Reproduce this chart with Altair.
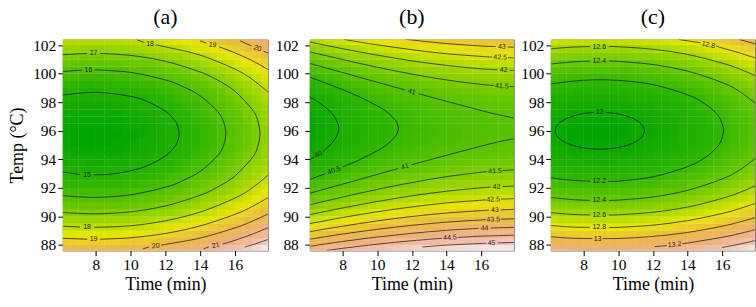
import altair as alt
import pandas as pd

# ---------------- data ----------------
time_grid = [6.25, 6.75, 7.25, 7.75, 8.25, 8.75, 9.25, 9.75, 10.25, 10.75, 11.25, 11.75,
             12.25, 12.75, 13.25, 13.75, 14.25, 14.75, 15.25, 15.75, 16.25, 16.75, 17.25, 17.75]
temp_grid = [87.75, 88.25, 88.75, 89.25, 89.75, 90.25, 90.75, 91.25, 91.75, 92.25, 92.75, 93.25,
             93.75, 94.25, 94.75, 95.25, 95.75, 96.25, 96.75, 97.25, 97.75, 98.25, 98.75, 99.25,
             99.75, 100.25, 100.75, 101.25, 101.75, 102.25]

time_ticks = [8, 10, 12, 14, 16]
temp_ticks = [88, 90, 92, 94, 96, 98, 100, 102]
time_domain = [6.1, 17.9]
temp_domain = [87.6, 102.4]

panel_titles = ["(a)", "(b)", "(c)"]

# surface values, rows = temp_grid (low -> high), columns = time_grid
z_a = [
    [19.9, 19.9, 19.9, 19.9, 19.9, 19.9, 19.9, 20.0, 20.0, 20.1, 20.2, 20.3, 20.4, 20.6, 20.7, 20.9, 21.1, 21.3, 21.5, 21.7, 21.9, 22.2, 22.5, 22.8],
    [19.3, 19.2, 19.2, 19.2, 19.2, 19.2, 19.2, 19.3, 19.4, 19.4, 19.5, 19.6, 19.8, 19.9, 20.0, 20.2, 20.4, 20.6, 20.8, 21.0, 21.3, 21.5, 21.8, 22.1],
    [18.6, 18.6, 18.6, 18.6, 18.6, 18.6, 18.6, 18.7, 18.7, 18.8, 18.9, 19.0, 19.1, 19.3, 19.4, 19.6, 19.8, 20.0, 20.2, 20.4, 20.6, 20.9, 21.2, 21.5],
    [18.0, 18.0, 18.0, 18.0, 18.0, 18.0, 18.0, 18.1, 18.1, 18.2, 18.3, 18.4, 18.5, 18.7, 18.8, 19.0, 19.2, 19.4, 19.6, 19.8, 20.1, 20.3, 20.6, 20.9],
    [17.5, 17.5, 17.4, 17.4, 17.4, 17.5, 17.5, 17.5, 17.6, 17.7, 17.8, 17.9, 18.0, 18.1, 18.3, 18.5, 18.6, 18.8, 19.0, 19.3, 19.5, 19.8, 20.0, 20.3],
    [17.0, 17.0, 16.9, 16.9, 16.9, 17.0, 17.0, 17.0, 17.1, 17.2, 17.3, 17.4, 17.5, 17.6, 17.8, 18.0, 18.1, 18.3, 18.5, 18.8, 19.0, 19.3, 19.5, 19.8],
    [16.6, 16.5, 16.5, 16.5, 16.5, 16.5, 16.5, 16.6, 16.6, 16.7, 16.8, 16.9, 17.0, 17.2, 17.3, 17.5, 17.7, 17.9, 18.1, 18.3, 18.6, 18.8, 19.1, 19.4],
    [16.1, 16.1, 16.1, 16.1, 16.1, 16.1, 16.1, 16.2, 16.2, 16.3, 16.4, 16.5, 16.6, 16.8, 16.9, 17.1, 17.3, 17.5, 17.7, 17.9, 18.1, 18.4, 18.7, 19.0],
    [15.8, 15.7, 15.7, 15.7, 15.7, 15.7, 15.7, 15.8, 15.9, 15.9, 16.0, 16.1, 16.3, 16.4, 16.6, 16.7, 16.9, 17.1, 17.3, 17.5, 17.8, 18.0, 18.3, 18.6],
    [15.4, 15.4, 15.4, 15.4, 15.4, 15.4, 15.4, 15.5, 15.5, 15.6, 15.7, 15.8, 15.9, 16.1, 16.2, 16.4, 16.6, 16.8, 17.0, 17.2, 17.5, 17.7, 18.0, 18.3],
    [15.2, 15.1, 15.1, 15.1, 15.1, 15.1, 15.1, 15.2, 15.2, 15.3, 15.4, 15.5, 15.7, 15.8, 15.9, 16.1, 16.3, 16.5, 16.7, 16.9, 17.2, 17.4, 17.7, 18.0],
    [14.9, 14.9, 14.9, 14.8, 14.8, 14.9, 14.9, 14.9, 15.0, 15.1, 15.2, 15.3, 15.4, 15.5, 15.7, 15.9, 16.0, 16.2, 16.5, 16.7, 16.9, 17.2, 17.5, 17.7],
    [14.7, 14.7, 14.7, 14.6, 14.6, 14.7, 14.7, 14.7, 14.8, 14.9, 15.0, 15.1, 15.2, 15.3, 15.5, 15.7, 15.9, 16.0, 16.3, 16.5, 16.7, 17.0, 17.3, 17.5],
    [14.6, 14.5, 14.5, 14.5, 14.5, 14.5, 14.5, 14.6, 14.7, 14.7, 14.8, 14.9, 15.1, 15.2, 15.3, 15.5, 15.7, 15.9, 16.1, 16.3, 16.6, 16.8, 17.1, 17.4],
    [14.5, 14.4, 14.4, 14.4, 14.4, 14.4, 14.4, 14.5, 14.5, 14.6, 14.7, 14.8, 14.9, 15.1, 15.2, 15.4, 15.6, 15.8, 16.0, 16.2, 16.5, 16.7, 17.0, 17.3],
    [14.4, 14.3, 14.3, 14.3, 14.3, 14.3, 14.4, 14.4, 14.5, 14.6, 14.6, 14.8, 14.9, 15.0, 15.2, 15.3, 15.5, 15.7, 15.9, 16.2, 16.4, 16.6, 16.9, 17.2],
    [14.4, 14.3, 14.3, 14.3, 14.3, 14.3, 14.3, 14.4, 14.4, 14.5, 14.6, 14.7, 14.9, 15.0, 15.1, 15.3, 15.5, 15.7, 15.9, 16.1, 16.4, 16.6, 16.9, 17.2],
    [14.4, 14.3, 14.3, 14.3, 14.3, 14.3, 14.4, 14.4, 14.5, 14.5, 14.6, 14.7, 14.9, 15.0, 15.2, 15.3, 15.5, 15.7, 15.9, 16.1, 16.4, 16.6, 16.9, 17.2],
    [14.4, 14.4, 14.4, 14.4, 14.4, 14.4, 14.4, 14.5, 14.5, 14.6, 14.7, 14.8, 14.9, 15.1, 15.2, 15.4, 15.6, 15.8, 16.0, 16.2, 16.4, 16.7, 17.0, 17.3],
    [14.5, 14.5, 14.5, 14.5, 14.5, 14.5, 14.5, 14.6, 14.6, 14.7, 14.8, 14.9, 15.0, 15.2, 15.3, 15.5, 15.7, 15.9, 16.1, 16.3, 16.5, 16.8, 17.1, 17.4],
    [14.7, 14.6, 14.6, 14.6, 14.6, 14.6, 14.7, 14.7, 14.8, 14.9, 14.9, 15.1, 15.2, 15.3, 15.5, 15.6, 15.8, 16.0, 16.2, 16.5, 16.7, 16.9, 17.2, 17.5],
    [14.9, 14.8, 14.8, 14.8, 14.8, 14.8, 14.9, 14.9, 15.0, 15.0, 15.1, 15.2, 15.4, 15.5, 15.7, 15.8, 16.0, 16.2, 16.4, 16.6, 16.9, 17.1, 17.4, 17.7],
    [15.1, 15.1, 15.0, 15.0, 15.0, 15.1, 15.1, 15.1, 15.2, 15.3, 15.4, 15.5, 15.6, 15.7, 15.9, 16.1, 16.2, 16.4, 16.6, 16.9, 17.1, 17.4, 17.6, 17.9],
    [15.4, 15.3, 15.3, 15.3, 15.3, 15.3, 15.4, 15.4, 15.5, 15.6, 15.6, 15.8, 15.9, 16.0, 16.2, 16.3, 16.5, 16.7, 16.9, 17.1, 17.4, 17.6, 17.9, 18.2],
    [15.7, 15.7, 15.6, 15.6, 15.6, 15.6, 15.7, 15.7, 15.8, 15.9, 16.0, 16.1, 16.2, 16.3, 16.5, 16.6, 16.8, 17.0, 17.2, 17.5, 17.7, 18.0, 18.2, 18.5],
    [16.1, 16.0, 16.0, 16.0, 16.0, 16.0, 16.0, 16.1, 16.2, 16.2, 16.3, 16.4, 16.6, 16.7, 16.8, 17.0, 17.2, 17.4, 17.6, 17.8, 18.1, 18.3, 18.6, 18.9],
    [16.5, 16.4, 16.4, 16.4, 16.4, 16.4, 16.4, 16.5, 16.6, 16.6, 16.7, 16.8, 17.0, 17.1, 17.2, 17.4, 17.6, 17.8, 18.0, 18.2, 18.5, 18.7, 19.0, 19.3],
    [16.9, 16.9, 16.8, 16.8, 16.8, 16.9, 16.9, 16.9, 17.0, 17.1, 17.2, 17.3, 17.4, 17.5, 17.7, 17.9, 18.0, 18.2, 18.5, 18.7, 18.9, 19.2, 19.4, 19.7],
    [17.4, 17.4, 17.3, 17.3, 17.3, 17.3, 17.4, 17.4, 17.5, 17.6, 17.7, 17.8, 17.9, 18.0, 18.2, 18.4, 18.5, 18.7, 18.9, 19.2, 19.4, 19.7, 19.9, 20.2],
    [17.9, 17.9, 17.9, 17.9, 17.9, 17.9, 17.9, 18.0, 18.0, 18.1, 18.2, 18.3, 18.4, 18.6, 18.7, 18.9, 19.1, 19.3, 19.5, 19.7, 19.9, 20.2, 20.5, 20.8],
]
z_b = [
    [44.19, 44.28, 44.38, 44.46, 44.55, 44.63, 44.70, 44.78, 44.84, 44.91, 44.97, 45.03, 45.08, 45.13, 45.18, 45.22, 45.26, 45.30, 45.33, 45.36, 45.38, 45.40, 45.42, 45.43],
    [43.67, 43.77, 43.86, 43.95, 44.03, 44.11, 44.19, 44.26, 44.33, 44.40, 44.46, 44.52, 44.57, 44.62, 44.67, 44.71, 44.75, 44.78, 44.81, 44.84, 44.87, 44.89, 44.90, 44.92],
    [43.19, 43.29, 43.38, 43.47, 43.55, 43.63, 43.71, 43.78, 43.85, 43.91, 43.97, 44.03, 44.09, 44.14, 44.18, 44.23, 44.26, 44.30, 44.33, 44.36, 44.38, 44.40, 44.42, 44.43],
    [42.74, 42.83, 42.93, 43.01, 43.10, 43.18, 43.25, 43.33, 43.40, 43.46, 43.52, 43.58, 43.63, 43.68, 43.73, 43.77, 43.81, 43.85, 43.88, 43.91, 43.93, 43.95, 43.97, 43.98],
    [42.32, 42.41, 42.51, 42.59, 42.68, 42.76, 42.83, 42.91, 42.98, 43.04, 43.10, 43.16, 43.21, 43.26, 43.31, 43.35, 43.39, 43.43, 43.46, 43.49, 43.51, 43.53, 43.55, 43.56],
    [41.93, 42.03, 42.12, 42.20, 42.29, 42.37, 42.45, 42.52, 42.59, 42.65, 42.71, 42.77, 42.83, 42.88, 42.92, 42.96, 43.00, 43.04, 43.07, 43.10, 43.12, 43.14, 43.16, 43.17],
    [41.57, 41.67, 41.76, 41.85, 41.93, 42.01, 42.09, 42.16, 42.23, 42.29, 42.36, 42.41, 42.47, 42.52, 42.56, 42.61, 42.65, 42.68, 42.71, 42.74, 42.77, 42.79, 42.80, 42.81],
    [41.25, 41.34, 41.43, 41.52, 41.61, 41.69, 41.76, 41.83, 41.90, 41.97, 42.03, 42.09, 42.14, 42.19, 42.24, 42.28, 42.32, 42.36, 42.39, 42.41, 42.44, 42.46, 42.48, 42.49],
    [40.95, 41.05, 41.14, 41.23, 41.31, 41.39, 41.47, 41.54, 41.61, 41.67, 41.74, 41.79, 41.85, 41.90, 41.94, 41.99, 42.03, 42.06, 42.09, 42.12, 42.15, 42.17, 42.18, 42.19],
    [40.69, 40.79, 40.88, 40.96, 41.05, 41.13, 41.21, 41.28, 41.35, 41.41, 41.47, 41.53, 41.59, 41.64, 41.68, 41.72, 41.76, 41.80, 41.83, 41.86, 41.88, 41.90, 41.92, 41.93],
    [40.46, 40.55, 40.65, 40.73, 40.82, 40.90, 40.97, 41.05, 41.12, 41.18, 41.24, 41.30, 41.35, 41.40, 41.45, 41.49, 41.53, 41.57, 41.60, 41.63, 41.65, 41.67, 41.69, 41.70],
    [40.26, 40.35, 40.45, 40.53, 40.62, 40.70, 40.77, 40.85, 40.92, 40.98, 41.04, 41.10, 41.15, 41.20, 41.25, 41.29, 41.33, 41.37, 41.40, 41.43, 41.45, 41.47, 41.49, 41.50],
    [40.09, 40.19, 40.28, 40.37, 40.45, 40.53, 40.61, 40.68, 40.75, 40.81, 40.87, 40.93, 40.99, 41.04, 41.08, 41.13, 41.16, 41.20, 41.23, 41.26, 41.28, 41.30, 41.32, 41.33],
    [39.95, 40.05, 40.14, 40.23, 40.31, 40.39, 40.47, 40.54, 40.61, 40.68, 40.74, 40.80, 40.85, 40.90, 40.95, 40.99, 41.03, 41.06, 41.09, 41.12, 41.15, 41.17, 41.18, 41.20],
    [39.85, 39.94, 40.04, 40.12, 40.21, 40.29, 40.36, 40.44, 40.51, 40.57, 40.63, 40.69, 40.74, 40.79, 40.84, 40.88, 40.92, 40.96, 40.99, 41.02, 41.04, 41.06, 41.08, 41.09],
    [39.78, 39.87, 39.96, 40.05, 40.13, 40.21, 40.29, 40.36, 40.43, 40.50, 40.56, 40.62, 40.67, 40.72, 40.77, 40.81, 40.85, 40.88, 40.92, 40.94, 40.97, 40.99, 41.00, 41.02],
    [39.73, 39.83, 39.92, 40.01, 40.09, 40.17, 40.25, 40.32, 40.39, 40.45, 40.52, 40.57, 40.63, 40.68, 40.72, 40.77, 40.81, 40.84, 40.87, 40.90, 40.93, 40.95, 40.96, 40.97],
    [39.72, 39.82, 39.91, 40.00, 40.08, 40.16, 40.24, 40.31, 40.38, 40.44, 40.51, 40.56, 40.62, 40.67, 40.71, 40.76, 40.80, 40.83, 40.86, 40.89, 40.91, 40.93, 40.95, 40.96],
    [39.74, 39.84, 39.93, 40.02, 40.10, 40.18, 40.26, 40.33, 40.40, 40.46, 40.53, 40.58, 40.64, 40.69, 40.73, 40.78, 40.82, 40.85, 40.88, 40.91, 40.94, 40.96, 40.97, 40.98],
    [39.80, 39.89, 39.98, 40.07, 40.15, 40.23, 40.31, 40.38, 40.45, 40.52, 40.58, 40.64, 40.69, 40.74, 40.79, 40.83, 40.87, 40.90, 40.94, 40.96, 40.99, 41.01, 41.02, 41.04],
    [39.88, 39.97, 40.07, 40.15, 40.24, 40.32, 40.39, 40.47, 40.54, 40.60, 40.66, 40.72, 40.77, 40.82, 40.87, 40.91, 40.95, 40.99, 41.02, 41.05, 41.07, 41.09, 41.11, 41.12],
    [40.00, 40.09, 40.18, 40.27, 40.35, 40.43, 40.51, 40.58, 40.65, 40.72, 40.78, 40.84, 40.89, 40.94, 40.99, 41.03, 41.07, 41.10, 41.14, 41.16, 41.19, 41.21, 41.22, 41.24],
    [40.14, 40.24, 40.33, 40.42, 40.50, 40.58, 40.66, 40.73, 40.80, 40.86, 40.92, 40.98, 41.04, 41.09, 41.13, 41.18, 41.21, 41.25, 41.28, 41.31, 41.33, 41.35, 41.37, 41.38],
    [40.32, 40.42, 40.51, 40.59, 40.68, 40.76, 40.84, 40.91, 40.98, 41.04, 41.10, 41.16, 41.22, 41.27, 41.31, 41.35, 41.39, 41.43, 41.46, 41.49, 41.51, 41.53, 41.55, 41.56],
    [40.53, 40.62, 40.72, 40.80, 40.89, 40.97, 41.04, 41.12, 41.19, 41.25, 41.31, 41.37, 41.42, 41.47, 41.52, 41.56, 41.60, 41.64, 41.67, 41.70, 41.72, 41.74, 41.76, 41.77],
    [40.77, 40.87, 40.96, 41.05, 41.13, 41.21, 41.29, 41.36, 41.43, 41.49, 41.55, 41.61, 41.67, 41.72, 41.76, 41.81, 41.84, 41.88, 41.91, 41.94, 41.96, 41.98, 42.00, 42.01],
    [41.04, 41.14, 41.23, 41.32, 41.40, 41.48, 41.56, 41.63, 41.70, 41.76, 41.83, 41.88, 41.94, 41.99, 42.03, 42.08, 42.12, 42.15, 42.18, 42.21, 42.24, 42.26, 42.27, 42.28],
    [41.35, 41.44, 41.54, 41.62, 41.71, 41.79, 41.86, 41.94, 42.00, 42.07, 42.13, 42.19, 42.24, 42.29, 42.34, 42.38, 42.42, 42.46, 42.49, 42.52, 42.54, 42.56, 42.58, 42.59],
    [41.68, 41.78, 41.87, 41.96, 42.04, 42.12, 42.20, 42.27, 42.34, 42.41, 42.47, 42.53, 42.58, 42.63, 42.68, 42.72, 42.76, 42.79, 42.82, 42.85, 42.88, 42.90, 42.91, 42.93],
    [42.05, 42.15, 42.24, 42.33, 42.41, 42.49, 42.57, 42.64, 42.71, 42.77, 42.83, 42.89, 42.95, 43.00, 43.04, 43.09, 43.12, 43.16, 43.19, 43.22, 43.24, 43.26, 43.28, 43.29],
]
z_c = [
    [13.23, 13.22, 13.21, 13.20, 13.20, 13.20, 13.20, 13.20, 13.20, 13.21, 13.22, 13.23, 13.25, 13.26, 13.28, 13.30, 13.32, 13.35, 13.38, 13.40, 13.44, 13.47, 13.51, 13.55],
    [13.08, 13.07, 13.06, 13.06, 13.05, 13.05, 13.05, 13.05, 13.06, 13.07, 13.08, 13.09, 13.10, 13.12, 13.14, 13.16, 13.18, 13.20, 13.23, 13.26, 13.29, 13.33, 13.36, 13.40],
    [12.95, 12.94, 12.93, 12.92, 12.92, 12.92, 12.92, 12.92, 12.92, 12.93, 12.94, 12.95, 12.97, 12.98, 13.00, 13.02, 13.04, 13.07, 13.10, 13.13, 13.16, 13.19, 13.23, 13.27],
    [12.82, 12.81, 12.80, 12.80, 12.79, 12.79, 12.79, 12.79, 12.80, 12.81, 12.81, 12.83, 12.84, 12.86, 12.87, 12.90, 12.92, 12.94, 12.97, 13.00, 13.03, 13.07, 13.10, 13.14],
    [12.71, 12.69, 12.69, 12.68, 12.68, 12.67, 12.67, 12.68, 12.68, 12.69, 12.70, 12.71, 12.72, 12.74, 12.76, 12.78, 12.80, 12.83, 12.85, 12.88, 12.91, 12.95, 12.99, 13.02],
    [12.60, 12.59, 12.58, 12.57, 12.57, 12.57, 12.57, 12.57, 12.57, 12.58, 12.59, 12.60, 12.62, 12.63, 12.65, 12.67, 12.69, 12.72, 12.75, 12.77, 12.81, 12.84, 12.88, 12.92],
    [12.50, 12.49, 12.48, 12.47, 12.47, 12.47, 12.47, 12.47, 12.47, 12.48, 12.49, 12.50, 12.52, 12.53, 12.55, 12.57, 12.59, 12.62, 12.65, 12.68, 12.71, 12.74, 12.78, 12.82],
    [12.41, 12.40, 12.39, 12.38, 12.38, 12.38, 12.38, 12.38, 12.38, 12.39, 12.40, 12.41, 12.43, 12.44, 12.46, 12.48, 12.50, 12.53, 12.56, 12.59, 12.62, 12.65, 12.69, 12.73],
    [12.33, 12.32, 12.31, 12.30, 12.30, 12.30, 12.30, 12.30, 12.30, 12.31, 12.32, 12.33, 12.35, 12.36, 12.38, 12.40, 12.42, 12.45, 12.48, 12.50, 12.54, 12.57, 12.61, 12.65],
    [12.26, 12.24, 12.24, 12.23, 12.23, 12.22, 12.22, 12.23, 12.23, 12.24, 12.25, 12.26, 12.27, 12.29, 12.31, 12.33, 12.35, 12.38, 12.40, 12.43, 12.46, 12.50, 12.54, 12.57],
    [12.19, 12.18, 12.17, 12.17, 12.16, 12.16, 12.16, 12.16, 12.17, 12.18, 12.18, 12.20, 12.21, 12.23, 12.24, 12.27, 12.29, 12.31, 12.34, 12.37, 12.40, 12.44, 12.47, 12.51],
    [12.14, 12.13, 12.12, 12.11, 12.11, 12.11, 12.11, 12.11, 12.11, 12.12, 12.13, 12.14, 12.16, 12.17, 12.19, 12.21, 12.23, 12.26, 12.29, 12.32, 12.35, 12.38, 12.42, 12.46],
    [12.09, 12.08, 12.07, 12.07, 12.06, 12.06, 12.06, 12.06, 12.07, 12.08, 12.09, 12.10, 12.11, 12.13, 12.15, 12.17, 12.19, 12.21, 12.24, 12.27, 12.30, 12.34, 12.37, 12.41],
    [12.06, 12.05, 12.04, 12.03, 12.03, 12.03, 12.03, 12.03, 12.03, 12.04, 12.05, 12.06, 12.08, 12.09, 12.11, 12.13, 12.15, 12.18, 12.21, 12.23, 12.27, 12.30, 12.34, 12.38],
    [12.03, 12.02, 12.01, 12.00, 12.00, 12.00, 12.00, 12.00, 12.01, 12.01, 12.02, 12.03, 12.05, 12.06, 12.08, 12.10, 12.13, 12.15, 12.18, 12.21, 12.24, 12.27, 12.31, 12.35],
    [12.01, 12.00, 11.99, 11.99, 11.98, 11.98, 11.98, 11.98, 11.99, 12.00, 12.00, 12.02, 12.03, 12.05, 12.06, 12.09, 12.11, 12.13, 12.16, 12.19, 12.22, 12.26, 12.29, 12.33],
    [12.00, 11.99, 11.98, 11.98, 11.97, 11.97, 11.97, 11.97, 11.98, 11.99, 12.00, 12.01, 12.02, 12.04, 12.06, 12.08, 12.10, 12.12, 12.15, 12.18, 12.21, 12.25, 12.28, 12.32],
    [12.00, 11.99, 11.98, 11.98, 11.97, 11.97, 11.97, 11.97, 11.98, 11.99, 12.00, 12.01, 12.02, 12.04, 12.06, 12.08, 12.10, 12.12, 12.15, 12.18, 12.21, 12.25, 12.28, 12.32],
    [12.01, 12.00, 11.99, 11.99, 11.98, 11.98, 11.98, 11.98, 11.99, 12.00, 12.00, 12.02, 12.03, 12.05, 12.06, 12.09, 12.11, 12.13, 12.16, 12.19, 12.22, 12.26, 12.29, 12.33],
    [12.03, 12.02, 12.01, 12.00, 12.00, 12.00, 12.00, 12.00, 12.01, 12.01, 12.02, 12.03, 12.05, 12.06, 12.08, 12.10, 12.13, 12.15, 12.18, 12.21, 12.24, 12.27, 12.31, 12.35],
    [12.06, 12.05, 12.04, 12.03, 12.03, 12.03, 12.03, 12.03, 12.03, 12.04, 12.05, 12.06, 12.08, 12.09, 12.11, 12.13, 12.15, 12.18, 12.21, 12.23, 12.27, 12.30, 12.34, 12.38],
    [12.09, 12.08, 12.07, 12.07, 12.06, 12.06, 12.06, 12.06, 12.07, 12.08, 12.09, 12.10, 12.11, 12.13, 12.15, 12.17, 12.19, 12.21, 12.24, 12.27, 12.30, 12.34, 12.37, 12.41],
    [12.14, 12.13, 12.12, 12.11, 12.11, 12.11, 12.11, 12.11, 12.11, 12.12, 12.13, 12.14, 12.16, 12.17, 12.19, 12.21, 12.23, 12.26, 12.29, 12.32, 12.35, 12.38, 12.42, 12.46],
    [12.19, 12.18, 12.17, 12.17, 12.16, 12.16, 12.16, 12.16, 12.17, 12.18, 12.18, 12.20, 12.21, 12.23, 12.24, 12.27, 12.29, 12.31, 12.34, 12.37, 12.40, 12.44, 12.47, 12.51],
    [12.26, 12.24, 12.24, 12.23, 12.23, 12.22, 12.22, 12.23, 12.23, 12.24, 12.25, 12.26, 12.27, 12.29, 12.31, 12.33, 12.35, 12.38, 12.40, 12.43, 12.46, 12.50, 12.54, 12.57],
    [12.33, 12.32, 12.31, 12.30, 12.30, 12.30, 12.30, 12.30, 12.30, 12.31, 12.32, 12.33, 12.35, 12.36, 12.38, 12.40, 12.42, 12.45, 12.48, 12.50, 12.54, 12.57, 12.61, 12.65],
    [12.41, 12.40, 12.39, 12.38, 12.38, 12.38, 12.38, 12.38, 12.38, 12.39, 12.40, 12.41, 12.43, 12.44, 12.46, 12.48, 12.50, 12.53, 12.56, 12.59, 12.62, 12.65, 12.69, 12.73],
    [12.50, 12.49, 12.48, 12.47, 12.47, 12.47, 12.47, 12.47, 12.47, 12.48, 12.49, 12.50, 12.52, 12.53, 12.55, 12.57, 12.59, 12.62, 12.65, 12.68, 12.71, 12.74, 12.78, 12.82],
    [12.60, 12.59, 12.58, 12.57, 12.57, 12.57, 12.57, 12.57, 12.57, 12.58, 12.59, 12.60, 12.62, 12.63, 12.65, 12.67, 12.69, 12.72, 12.75, 12.77, 12.81, 12.84, 12.88, 12.92],
    [12.71, 12.69, 12.69, 12.68, 12.68, 12.67, 12.67, 12.68, 12.68, 12.69, 12.70, 12.71, 12.72, 12.74, 12.76, 12.78, 12.80, 12.83, 12.85, 12.88, 12.91, 12.95, 12.99, 13.02],
]
z_range_a = [14.28, 23.05]
z_range_b = [39.70, 45.60]
z_range_c = [11.97, 13.62]

# contour line segments (time, temp), broken where labels sit
contour_a = [
    [(6.1, 98.5), (8.0, 98.69), (10.0, 98.41), (11.0, 98.03), (12.0, 97.37), (12.5, 96.78), (12.7, 96.36),
     (12.79, 95.8), (12.7, 95.24), (12.5, 94.82), (12.0, 94.23), (11.0, 93.57), (10.0, 93.19), (8.9, 92.96), (7.9, 92.91)],
    [(7.1, 92.94), (6.1, 93.1)],
    [(6.1, 100.15), (7.2, 100.25)],
    [(7.95, 100.27), (10.0, 100.09), (12.0, 99.56), (13.0, 99.1), (14.0, 98.45), (15.0, 97.36), (15.35, 96.62),
     (15.48, 95.8), (15.35, 94.98), (15.0, 94.24), (14.0, 93.15), (13.0, 92.5), (12.0, 92.04), (10.0, 91.51),
     (8.0, 91.33), (6.1, 91.45)],
    [(6.1, 101.33), (7.5, 101.42)],
    [(8.25, 101.42), (10.0, 101.28), (12.0, 100.87), (14.0, 100.12), (15.0, 99.55), (16.0, 98.77), (17.0, 97.48),
     (17.3, 96.76), (17.44, 95.8), (17.3, 94.84), (17.0, 94.12), (16.0, 92.83), (15.0, 92.05), (14.0, 91.48),
     (12.0, 90.73), (10.0, 90.32), (8.0, 90.18), (6.1, 90.27)],
    [(10.35, 102.38), (10.8, 102.18)],
    [(11.45, 102.02), (12.0, 101.88), (14.0, 101.3), (16.0, 100.32), (17.0, 99.6), (17.9, 98.72)],
    [(6.1, 89.31), (7.1, 89.25)],
    [(7.9, 89.23), (10.0, 89.34), (12.0, 89.69), (14.0, 90.3), (16.0, 91.28), (17.0, 92.0), (17.9, 92.88)],
    [(14.0, 102.3), (14.35, 102.15)],
    [(15.1, 101.88), (16.0, 101.46), (17.0, 100.91), (17.9, 100.29)],
    [(6.1, 88.46), (7.5, 88.4)],
    [(8.25, 88.4), (10.0, 88.5), (12.0, 88.8), (14.0, 89.33), (16.0, 90.14), (17.0, 90.69), (17.9, 91.31)],
    [(16.3, 102.3), (16.95, 101.95)],
    [(17.65, 101.58), (17.9, 101.44)],
    [(10.7, 87.72), (11.05, 87.85)],
    [(11.85, 88.0), (12.0, 88.03), (14.0, 88.48), (16.0, 89.19), (17.0, 89.66), (17.9, 90.16)],
    [(14.2, 87.72), (14.5, 87.86)],
    [(15.3, 88.06), (16.0, 88.32), (17.0, 88.75), (17.9, 89.2)],
    [(16.55, 87.85), (17.2, 88.08), (17.9, 88.38)],
]
contour_b = [
    [(6.1, 98.38), (6.5, 98.08), (7.0, 97.64), (7.5, 97.03), (7.78, 96.17), (7.5, 95.31), (7.0, 94.7), (6.85, 94.55)],
    [(6.35, 94.15), (6.1, 93.96)],
    [(6.1, 99.75), (7.0, 99.35), (8.0, 98.88), (9.0, 98.36), (10.0, 97.74), (10.5, 97.36), (11.0, 96.8),
     (11.22, 96.17), (11.0, 95.54), (10.5, 94.98), (10.0, 94.6), (9.0, 93.98), (8.0, 93.46)],
    [(7.0, 92.99), (6.1, 92.59)],
    [(6.1, 100.72), (8.0, 100.08), (10.0, 99.4), (11.6, 98.86)],
    [(12.4, 98.59), (14.0, 98.06), (16.0, 97.42), (17.0, 97.12), (17.9, 96.9)],
    [(6.1, 91.62), (8.0, 92.26), (10.0, 92.94), (11.2, 93.35)],
    [(12.0, 93.62), (14.0, 94.28), (16.0, 94.92), (17.0, 95.22), (17.9, 95.44)],
    [(6.1, 101.53), (8.0, 100.99), (10.0, 100.45), (12.0, 99.97), (14.0, 99.56), (16.0, 99.25), (16.75, 99.17)],
    [(17.65, 99.1), (17.9, 99.08)],
    [(6.1, 90.81), (8.0, 91.35), (10.0, 91.89), (12.0, 92.37), (14.0, 92.78), (16.0, 93.09), (16.35, 93.13)],
    [(17.25, 93.21), (17.9, 93.26)],
    [(6.1, 102.22), (8.0, 101.75), (10.0, 101.3), (12.0, 100.9), (14.0, 100.58), (16.0, 100.34), (16.95, 100.28)],
    [(17.65, 100.24), (17.9, 100.22)],
    [(6.1, 90.12), (8.0, 90.59), (10.0, 91.04), (12.0, 91.44), (14.0, 91.76), (16.0, 92.0), (16.55, 92.04)],
    [(17.25, 92.09), (17.9, 92.12)],
    [(8.1, 102.4), (9.0, 102.21), (10.0, 102.02), (12.0, 101.68), (14.0, 101.4), (16.0, 101.21), (16.65, 101.16)],
    [(17.55, 101.12), (17.9, 101.1)],
    [(6.1, 89.49), (8.0, 89.92), (10.0, 90.32), (12.0, 90.66), (14.0, 90.94), (16.0, 91.13), (16.25, 91.15)],
    [(17.15, 91.21), (17.9, 91.24)],
    [(11.7, 102.4), (12.0, 102.36), (14.0, 102.11), (16.0, 101.94), (16.85, 101.9)],
    [(17.55, 101.87), (17.9, 101.85)],
    [(6.1, 88.93), (8.0, 89.31), (10.0, 89.68), (12.0, 89.99), (14.0, 90.23), (16.0, 90.4), (16.45, 90.43)],
    [(17.15, 90.46), (17.9, 90.49)],
    [(6.1, 88.4), (8.0, 88.76), (10.0, 89.09), (12.0, 89.37), (14.0, 89.59), (16.0, 89.75), (16.25, 89.76)],
    [(17.15, 89.8), (17.9, 89.83)],
    [(6.1, 87.9), (8.0, 88.24), (10.0, 88.55), (12.0, 88.81), (14.0, 89.02), (15.85, 89.15)],
    [(16.55, 89.18), (17.9, 89.23)],
    [(7.05, 87.6), (8.0, 87.76), (10.0, 88.05), (12.0, 88.29), (13.75, 88.46)],
    [(14.65, 88.52), (16.0, 88.61), (17.9, 88.68)],
    [(12.6, 87.85), (14.0, 87.98), (16.0, 88.1), (16.25, 88.11)],
    [(16.95, 88.14), (17.9, 88.17)],
]
contour_c = [
    [(9.29, 97.28), (10.22, 97.12), (11.16, 96.65), (11.51, 96.0), (11.16, 95.35), (10.22, 94.88), (8.93, 94.71),
     (7.64, 94.88), (6.70, 95.35), (6.35, 96.0), (6.70, 96.65), (7.64, 97.12), (8.57, 97.28)],
    [(6.1, 99.28), (8.0, 99.54), (10.0, 99.53), (12.0, 99.23), (14.0, 98.52), (15.0, 97.89), (15.6, 97.29),
     (15.9, 96.8), (16.08, 96.0), (15.9, 95.2), (15.6, 94.71), (15.0, 94.11), (14.0, 93.48), (12.0, 92.77),
     (10.0, 92.47), (9.4, 92.46)],
    [(8.4, 92.46), (7.0, 92.56), (6.1, 92.72)],
    [(6.1, 100.68), (7.3, 100.82), (8.35, 100.88)],
    [(9.45, 100.88), (10.0, 100.86), (12.0, 100.64), (14.0, 100.18), (16.0, 99.38), (17.0, 98.76), (17.9, 97.94)],
    [(6.1, 91.32), (7.3, 91.18), (8.35, 91.12)],
    [(9.45, 91.12), (10.0, 91.14), (12.0, 91.36), (14.0, 91.82), (16.0, 92.62), (17.0, 93.24), (17.9, 94.06)],
    [(6.1, 101.74), (7.3, 101.86), (8.35, 101.9)],
    [(9.45, 101.9), (10.0, 101.89), (12.0, 101.71), (14.0, 101.35), (16.0, 100.74), (17.0, 100.33), (17.9, 99.86)],
    [(6.1, 90.26), (7.3, 90.14), (8.35, 90.1)],
    [(9.45, 90.1), (10.0, 90.11), (12.0, 90.29), (14.0, 90.65), (16.0, 91.26), (17.0, 91.67), (17.9, 92.14)],
    [(13.48, 102.4), (14.0, 102.3), (14.75, 102.17)],
    [(15.65, 101.95), (16.0, 101.8), (17.0, 101.46), (17.9, 101.1)],
    [(6.1, 89.36), (7.3, 89.25), (8.35, 89.23)],
    [(9.45, 89.23), (10.0, 89.23), (12.0, 89.38), (14.0, 89.7), (16.0, 90.2), (17.0, 90.54), (17.9, 90.9)],
    [(6.1, 88.57), (7.3, 88.47), (8.5, 88.45)],
    [(9.1, 88.45), (10.0, 88.45), (12.0, 88.59), (14.0, 88.87), (16.0, 89.31), (17.0, 89.6), (17.9, 89.91)],
    [(17.0, 102.4), (17.9, 102.09)],
    [(12.1, 87.88), (12.8, 87.95)],
    [(13.7, 88.09), (14.0, 88.13), (16.0, 88.53), (17.0, 88.79), (17.9, 89.06)],
    [(16.0, 87.82), (17.0, 88.05), (17.9, 88.3)],
]

# contour labels
label_a_text = ["15", "16", "17", "18", "19", "20", "18", "19", "20", "21"]
label_a_time = [7.5, 7.58, 7.87, 11.12, 14.72, 17.3, 7.5, 7.87, 11.45, 14.9]
label_a_temp = [92.92, 100.26, 101.42, 102.08, 102.0, 101.78, 89.24, 88.4, 87.93, 87.97]
label_a_angle = [0, 0, 0, 0, 8, 22, 0, 0, 355, 345]

label_b_text = ["40", "40.5", "41", "41", "41.5", "41.5", "42", "42", "42.5", "42.5", "43", "43",
                "43.5", "44", "44.5", "45"]
label_b_time = [6.6, 7.5, 12.0, 11.6, 17.2, 16.8, 17.3, 16.9, 17.1, 16.7, 17.2, 16.8, 16.7, 16.2, 14.2, 16.6]
label_b_temp = [94.35, 93.22, 98.72, 93.48, 99.13, 93.17, 100.26, 92.07, 101.14, 91.18, 101.88, 90.45,
                89.78, 89.17, 88.5, 88.13]
label_b_angle = [326, 339, 15, 344, 3, 357, 2, 358, 2, 358, 1, 359, 359, 359, 357, 359]

label_c_text = ["12", "12.2", "12.4", "12.4", "12.6", "12.6", "12.8", "12.8", "13", "13.2"]
label_c_time = [8.93, 8.9, 8.9, 8.9, 8.9, 8.9, 15.2, 8.9, 8.8, 13.25]
label_c_temp = [97.29, 92.46, 100.88, 91.12, 101.9, 90.1, 102.02, 89.22, 88.44, 88.02]
label_c_angle = [0, 0, 0, 0, 0, 0, 13, 0, 0, 354]

# ---------------- styling ----------------
terrain = ["#00A600", "#2DB600", "#63C600", "#A0D600", "#E6E600",
           "#E9BD3A", "#ECB176", "#EFC2B3", "#F2F2F2"]
SERIF = "Liberation Serif"
PANEL_H = 212


def heat_table(z):
    return pd.DataFrame([{"time": t, "temp": T, "z": z[r][c]}
                         for r, T in enumerate(temp_grid) for c, t in enumerate(time_grid)])


def contour_table(segs):
    return pd.DataFrame([{"seg": k, "i": i, "time": p[0], "temp": p[1]}
                         for k, seg in enumerate(segs) for i, p in enumerate(seg)])


def axis(values, title, pad):
    return alt.Axis(
        values=values, title=title,
        labelFont=SERIF, labelFontSize=15.5, labelColor="black", labelPadding=pad,
        labelFlush=False, labelOverlap=False,
        tickColor="black", tickSize=5, tickWidth=1,
        domain=False, grid=False,
        titleFont=SERIF, titleFontSize=18, titleFontWeight="normal", titleColor="black",
    )


def panel(title, z, zr, segs, ltext, ltime, ltemp, langle, ytitle, width, ypad):
    xs = alt.Scale(domain=time_domain, nice=False, zero=False)
    ys = alt.Scale(domain=temp_domain, nice=False, zero=False)
    xa = axis(time_ticks, "Time (min)", 2)
    ya = axis(temp_ticks, ytitle, ypad)
    stops = [zr[0] + k * (zr[1] - zr[0]) / 8 for k in range(9)]
    cs = alt.Scale(domain=stops, range=terrain, clamp=True)

    heat = alt.Chart(heat_table(z)).transform_calculate(
        t0="datum.time - 0.26", t1="datum.time + 0.26",
        T0="datum.temp - 0.26", T1="datum.temp + 0.26",
    ).mark_rect(clip=True).encode(
        x=alt.X("t0:Q", scale=xs, axis=xa), x2="t1:Q",
        y=alt.Y("T0:Q", scale=ys, axis=ya), y2="T1:Q",
        color=alt.Color("z:Q", scale=cs, legend=None),
    )
    lines = alt.Chart(contour_table(segs)).mark_line(
        color="#111111", strokeWidth=0.7, interpolate="cardinal", clip=True
    ).encode(
        x=alt.X("time:Q", scale=xs, axis=xa),
        y=alt.Y("temp:Q", scale=ys, axis=ya),
        detail="seg:N",
        order="i:Q",
    )
    labels = alt.Chart(pd.DataFrame({"label": ltext, "time": ltime, "temp": ltemp, "angle": langle})).mark_text(
        font="Liberation Sans", fontSize=7, color="#222222", clip=True
    ).encode(
        x=alt.X("time:Q", scale=xs, axis=xa),
        y=alt.Y("temp:Q", scale=ys, axis=ya),
        text="label:N",
        angle=alt.Angle("angle:Q", scale=None),
    )
    return alt.layer(heat, lines, labels).properties(
        width=width, height=PANEL_H,
        title=alt.TitleParams(title, font=SERIF, fontSize=22, fontWeight="normal", color="black",
                              offset=9, frame="group", anchor="middle"),
    )


pa = panel(panel_titles[0], z_a, z_range_a, contour_a, label_a_text, label_a_time, label_a_temp, label_a_angle,
           "Temp (°C)", 206, 2)
pb = panel(panel_titles[1], z_b, z_range_b, contour_b, label_b_text, label_b_time, label_b_temp, label_b_angle,
           None, 205, 6.5)
pc = panel(panel_titles[2], z_c, z_range_c, contour_c, label_c_text, label_c_time, label_c_temp, label_c_angle,
           None, 205, 2)

chart = alt.hconcat(pa, pb, pc, spacing=5).resolve_scale(
    color="independent", x="independent", y="independent"
).properties(
    padding={"left": 8, "top": 5, "right": 0, "bottom": 0}
).configure_view(
    stroke="#888888", strokeWidth=1
).configure_axisY(titlePadding=6).configure_axisX(titlePadding=3)

chart.save("out.html", embed_options={"renderer": "svg", "actions": False})
